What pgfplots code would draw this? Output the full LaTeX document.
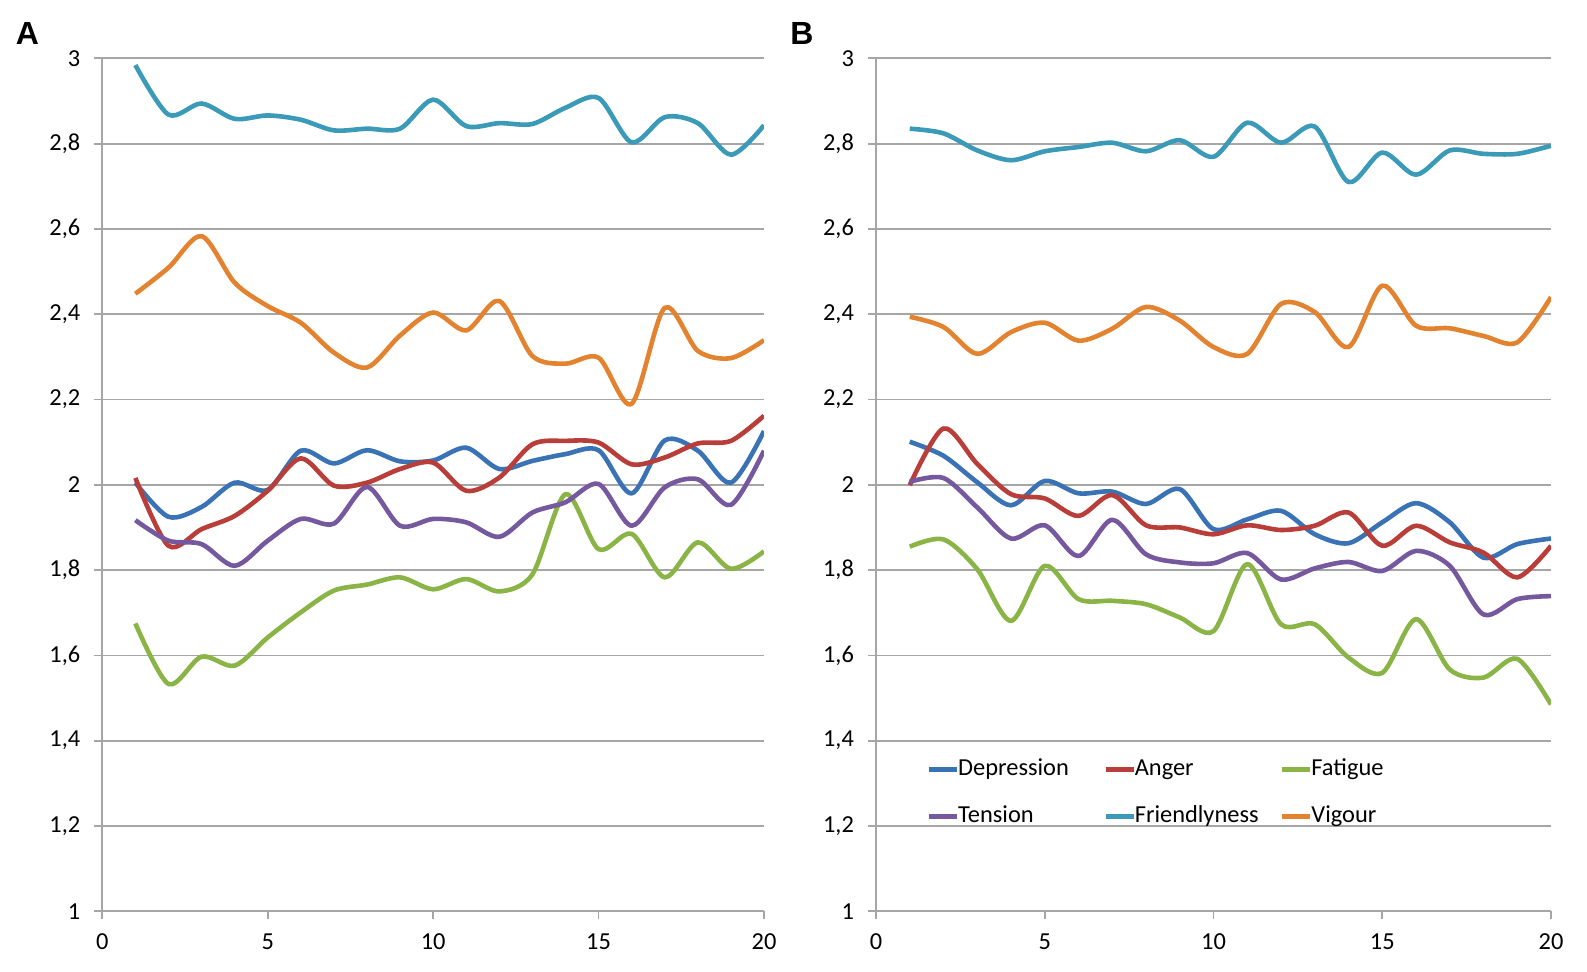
\documentclass[border=0pt]{standalone}
\usepackage{fontspec}
\setmainfont{Carlito}
\newfontfamily\arialfont{Liberation Sans}
\usepackage{pgfplots}
\usepackage{pgfplotstable}
\pgfplotsset{compat=1.18}
\definecolor{cDep}{HTML}{3A72B6}
\definecolor{cAng}{HTML}{B93D38}
\definecolor{cFat}{HTML}{8AB445}
\definecolor{cTen}{HTML}{75589E}
\definecolor{cFri}{HTML}{3A9AB7}
\definecolor{cVig}{HTML}{E3832F}
\definecolor{gridgray}{HTML}{A6A6A6}

\pgfplotstableread{
x D An F T Fr V
1  2.005 2.016 1.675 1.917 2.984 2.448
2  1.925 1.857 1.533 1.869 2.868 2.509
3  1.948 1.896 1.597 1.861 2.894 2.583
4  2.005 1.927 1.576 1.810 2.858 2.474
5  1.988 1.986 1.642 1.869 2.866 2.419
6  2.080 2.062 1.701 1.920 2.856 2.380
7  2.050 1.998 1.752 1.909 2.831 2.310
8  2.081 2.005 1.766 1.995 2.835 2.275
9  2.055 2.037 1.783 1.904 2.835 2.350
10 2.057 2.052 1.755 1.920 2.903 2.404
11 2.087 1.986 1.779 1.912 2.841 2.362
12 2.037 2.017 1.750 1.878 2.848 2.431
13 2.056 2.095 1.790 1.935 2.846 2.302
14 2.072 2.103 1.978 1.959 2.884 2.284
15 2.081 2.099 1.849 2.002 2.907 2.298
16 1.980 2.048 1.885 1.904 2.803 2.190
17 2.104 2.064 1.783 1.994 2.862 2.415
18 2.080 2.097 1.865 2.013 2.848 2.314
19 2.005 2.103 1.803 1.953 2.774 2.297
20 2.126 2.162 1.844 2.080 2.843 2.339
}\dataA

\pgfplotstableread{
x D An F T Fr V
1  2.101 1.999 1.855 2.007 2.835 2.394
2  2.068 2.132 1.872 2.016 2.824 2.370
3  2.006 2.049 1.802 1.947 2.784 2.307
4  1.952 1.978 1.681 1.874 2.761 2.358
5  2.009 1.968 1.810 1.905 2.782 2.380
6  1.980 1.927 1.732 1.833 2.792 2.338
7  1.984 1.976 1.728 1.918 2.802 2.366
8  1.955 1.905 1.720 1.837 2.782 2.417
9  1.990 1.900 1.689 1.818 2.808 2.385
10 1.896 1.884 1.657 1.816 2.769 2.323
11 1.919 1.905 1.814 1.840 2.849 2.307
12 1.939 1.894 1.673 1.778 2.802 2.424
13 1.884 1.904 1.673 1.804 2.840 2.405
14 1.863 1.935 1.595 1.819 2.710 2.323
15 1.912 1.857 1.559 1.798 2.779 2.467
16 1.957 1.904 1.685 1.845 2.727 2.373
17 1.912 1.865 1.567 1.810 2.784 2.367
18 1.829 1.841 1.548 1.696 2.776 2.349
19 1.861 1.783 1.592 1.732 2.776 2.334
20 1.874 1.857 1.485 1.739 2.795 2.440
}\dataB

\pgfplotsset{
  panel/.style={
    scale only axis,
    height=426.5pt,
    xmin=0, xmax=20, ymin=1, ymax=3,
    xtick={0,5,10,15,20},
    ytick={1,1.2,1.4,1.6,1.8,2,2.2,2.4,2.6,2.8,3},
    axis x line=bottom, axis y line=left,
    axis line style={-, draw=gridgray, line width=0.9pt},
    tick align=outside,
    major tick length=4pt,
    tick style={draw=gridgray, line width=0.9pt},
    ymajorgrids,
    grid style={draw=gridgray, line width=0.9pt},
    ticklabel style={font=\fontsize{12.2}{13}\selectfont, text=black},
    yticklabel style={xshift=-3.5pt},
    xticklabel style={yshift=-3.5pt},
    /pgf/number format/use comma,
    /pgf/number format/assume math mode=true,
    every axis plot/.append style={line width=2.3pt, smooth, no markers, line join=round},
  }
}

\begin{document}
\begin{tikzpicture}
\path[use as bounding box] (0pt,0pt) rectangle (793.5pt,485.5pt);
\node[font=\arialfont\bfseries\fontsize{16}{16}\selectfont, anchor=center, inner sep=0pt] at (13.75pt,468.75pt) {A};
\node[font=\arialfont\bfseries\fontsize{16}{16}\selectfont, anchor=center, inner sep=0pt] at (401pt,468.75pt) {B};

\begin{axis}[panel, at={(51.15pt,29.85pt)}, anchor=south west, width=330.85pt]
\addplot[cDep] table[x=x,y=D]{\dataA};
\addplot[cAng] table[x=x,y=An]{\dataA};
\addplot[cFat] table[x=x,y=F]{\dataA};
\addplot[cTen] table[x=x,y=T]{\dataA};
\addplot[cFri] table[x=x,y=Fr]{\dataA};
\addplot[cVig] table[x=x,y=V]{\dataA};
\end{axis}

\begin{axis}[panel, at={(438pt,29.85pt)}, anchor=south west, width=337.5pt,
  legend columns=3,
  legend image code/.code={\draw[#1, line width=2.3pt] (0pt,0pt) -- (14pt,0pt);},
  legend style={at={(0.075,0.179)}, anchor=north west, draw=none, fill=none,
    inner sep=0pt, outer sep=0pt, row sep=12.6pt,
    nodes={inner sep=0pt, text height=8.3pt, text depth=2.6pt, font=\fontsize{12.2}{13}\selectfont},
    /tikz/every odd column/.append style={column sep=-0.5pt},
    /tikz/every even column/.append style={column sep=0pt}},
  legend cell align=left]
\addplot[cDep] table[x=x,y=D]{\dataB};
\addlegendentry{\makebox[72.5pt][l]{Depression}}
\addplot[cAng] table[x=x,y=An]{\dataB};
\addlegendentry{\makebox[72.5pt][l]{Anger}}
\addplot[cFat] table[x=x,y=F]{\dataB};
\addlegendentry{\makebox[72.5pt][l]{Fatigue}}
\addplot[cTen] table[x=x,y=T]{\dataB};
\addlegendentry{\makebox[72.5pt][l]{Tension}}
\addplot[cFri] table[x=x,y=Fr]{\dataB};
\addlegendentry{\makebox[72.5pt][l]{Friendlyness}}
\addplot[cVig] table[x=x,y=V]{\dataB};
\addlegendentry{\makebox[72.5pt][l]{Vigour}}
\end{axis}
\end{tikzpicture}
\end{document}
